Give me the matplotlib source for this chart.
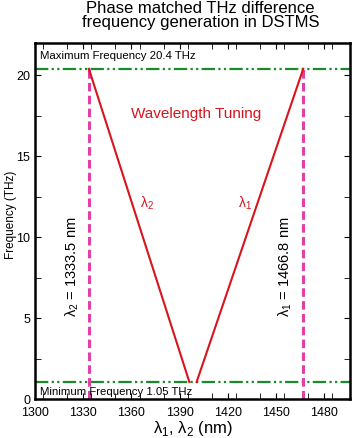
import matplotlib
matplotlib.use("Agg")
import matplotlib.pyplot as plt
from matplotlib.ticker import MultipleLocator

plt.rcParams['font.family'] = ['Liberation Sans', 'DejaVu Sans']
plt.rcParams['mathtext.fontset'] = 'custom'
plt.rcParams['mathtext.rm'] = 'Liberation Sans'

# data
lam2 = 1333.5
lam1 = 1466.8
f_max = 20.4
f_min = 1.05
lam2_curve_x = [1333.5, 1396.0]
lam2_curve_y = [20.4, 1.05]
lam1_curve_x = [1400.5, 1466.8]
lam1_curve_y = [1.05, 20.4]
x_ticks = [1300, 1330, 1360, 1390, 1420, 1450, 1480]
y_ticks = [0, 5, 10, 15, 20]

fig = plt.figure(figsize=(3.61, 4.38), dpi=100)
ax = fig.add_axes([0.097, 0.089, 0.873, 0.813])

green_ls = (0, (6, 1.5, 1, 1.5, 1, 1.5))
ax.axhline(f_max, color='#1a8a2a', lw=1.6, ls=green_ls)
ax.axhline(f_min, color='#1a8a2a', lw=1.6, ls=green_ls)
ax.plot([lam2, lam2], [0, f_max], color='#e040a8', lw=2.2, ls=(0, (2.8, 1.4)))
ax.plot([lam1, lam1], [0, f_max], color='#e040a8', lw=2.2, ls=(0, (2.8, 1.4)))
ax.plot(lam2_curve_x, lam2_curve_y, color='#d8141c', lw=1.5)
ax.plot(lam1_curve_x, lam1_curve_y, color='#d8141c', lw=1.5)

ax.text(1303, 21.2, 'Maximum Frequency 20.4 THz', fontsize=8.2, va='center')
ax.text(1303, 0.15, 'Minimum Frequency 1.05 THz', fontsize=8.2, va='bottom')
ax.text(1400.5, 17.6, 'Wavelength Tuning', color='#d8141c', fontsize=11, ha='center', va='center')
ax.text(1369.7, 12.1, 'λ$_2$', color='#d8141c', fontsize=10, ha='center', va='center')
ax.text(1430.7, 12.1, 'λ$_1$', color='#d8141c', fontsize=10, ha='center', va='center')
ax.text(1323, 8.2, 'λ$_2$ = 1333.5 nm', rotation=90, fontsize=10.5, ha='center', va='center')
ax.text(1455.6, 8.2, 'λ$_1$ = 1466.8 nm', rotation=90, fontsize=10.5, ha='center', va='center')

ax.set_xlim(1300, 1496)
ax.set_ylim(0, 22)
ax.set_xticks(x_ticks)
ax.set_yticks(y_ticks)
ax.xaxis.set_minor_locator(MultipleLocator(15))
ax.yaxis.set_minor_locator(MultipleLocator(2.5))
ax.tick_params(which='both', direction='in', top=True, right=True, labelsize=9)
ax.tick_params(which='major', length=4)
ax.tick_params(which='minor', length=4)
ax.tick_params(axis='x', pad=5.5)
for s in ax.spines.values():
    s.set_linewidth(1.8)

ax.set_xlabel('λ$_1$, λ$_2$ (nm)', fontsize=12, labelpad=0)
ax.set_ylabel('Frequency (THz)', fontsize=8.5)
ax.yaxis.set_label_coords(-0.058, 0.517)
fig.text(0.555, 0.997, 'Phase matched THz difference\nfrequency generation in DSTMS',
         ha='center', va='top', fontsize=12, linespacing=0.92)

fig.savefig('out.png', dpi=100)
